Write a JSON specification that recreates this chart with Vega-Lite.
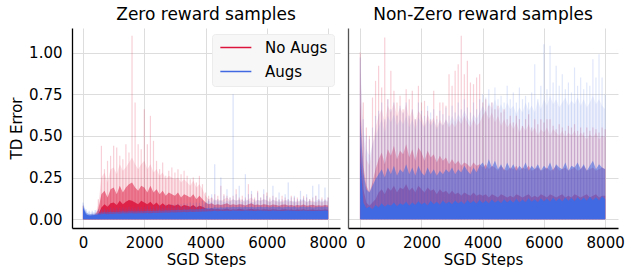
{
"$schema":"https://vega.github.io/schema/vega-lite/v6.json",
"background":"white",
"padding":{"left":9,"top":6,"right":0,"bottom":0},
"bounds":"flush",
"spacing":8,
"resolve":{"legend":{"stroke":"independent"},"scale":{"stroke":"independent"}},
"data":{"values":[
{"panel":"Zero","group":"No Augs","step":0,"q50":0.03,"q90":0.05,"q99":0.065,"max":0.08},
{"panel":"Zero","group":"No Augs","step":100,"q50":0.012,"q90":0.02,"q99":0.025,"max":0.03},
{"panel":"Zero","group":"No Augs","step":200,"q50":0.01,"q90":0.018,"q99":0.022,"max":0.025},
{"panel":"Zero","group":"No Augs","step":300,"q50":0.012,"q90":0.02,"q99":0.025,"max":0.03},
{"panel":"Zero","group":"No Augs","step":400,"q50":0.015,"q90":0.025,"q99":0.03,"max":0.035},
{"panel":"Zero","group":"No Augs","step":500,"q50":0.03,"q90":0.06,"q99":0.09,"max":0.12},
{"panel":"Zero","group":"No Augs","step":600,"q50":0.07,"q90":0.15,"q99":0.25,"max":0.44},
{"panel":"Zero","group":"No Augs","step":700,"q50":0.09,"q90":0.17,"q99":0.28,"max":0.3},
{"panel":"Zero","group":"No Augs","step":800,"q50":0.075,"q90":0.13,"q99":0.22,"max":0.35},
{"panel":"Zero","group":"No Augs","step":900,"q50":0.095,"q90":0.18,"q99":0.3,"max":0.38},
{"panel":"Zero","group":"No Augs","step":1000,"q50":0.1,"q90":0.19,"q99":0.31,"max":0.44},
{"panel":"Zero","group":"No Augs","step":1100,"q50":0.085,"q90":0.15,"q99":0.27,"max":0.43},
{"panel":"Zero","group":"No Augs","step":1200,"q50":0.11,"q90":0.2,"q99":0.33,"max":0.38},
{"panel":"Zero","group":"No Augs","step":1300,"q50":0.09,"q90":0.16,"q99":0.29,"max":0.36},
{"panel":"Zero","group":"No Augs","step":1400,"q50":0.105,"q90":0.19,"q99":0.31,"max":0.45},
{"panel":"Zero","group":"No Augs","step":1500,"q50":0.115,"q90":0.21,"q99":0.34,"max":0.4},
{"panel":"Zero","group":"No Augs","step":1600,"q50":0.11,"q90":0.22,"q99":0.37,"max":1.1},
{"panel":"Zero","group":"No Augs","step":1700,"q50":0.1,"q90":0.19,"q99":0.33,"max":0.7},
{"panel":"Zero","group":"No Augs","step":1800,"q50":0.09,"q90":0.17,"q99":0.3,"max":0.45},
{"panel":"Zero","group":"No Augs","step":1900,"q50":0.11,"q90":0.2,"q99":0.33,"max":0.42},
{"panel":"Zero","group":"No Augs","step":2000,"q50":0.1,"q90":0.19,"q99":0.35,"max":0.66},
{"panel":"Zero","group":"No Augs","step":2100,"q50":0.09,"q90":0.16,"q99":0.3,"max":0.45},
{"panel":"Zero","group":"No Augs","step":2200,"q50":0.105,"q90":0.2,"q99":0.33,"max":0.62},
{"panel":"Zero","group":"No Augs","step":2300,"q50":0.085,"q90":0.16,"q99":0.28,"max":0.47},
{"panel":"Zero","group":"No Augs","step":2400,"q50":0.1,"q90":0.18,"q99":0.3,"max":0.35},
{"panel":"Zero","group":"No Augs","step":2500,"q50":0.08,"q90":0.15,"q99":0.26,"max":0.3},
{"panel":"Zero","group":"No Augs","step":2600,"q50":0.095,"q90":0.17,"q99":0.28,"max":0.34},
{"panel":"Zero","group":"No Augs","step":2700,"q50":0.08,"q90":0.14,"q99":0.24,"max":0.26},
{"panel":"Zero","group":"No Augs","step":2800,"q50":0.09,"q90":0.16,"q99":0.26,"max":0.29},
{"panel":"Zero","group":"No Augs","step":2900,"q50":0.085,"q90":0.15,"q99":0.25,"max":0.31},
{"panel":"Zero","group":"No Augs","step":3000,"q50":0.08,"q90":0.14,"q99":0.24,"max":0.28},
{"panel":"Zero","group":"No Augs","step":3100,"q50":0.09,"q90":0.16,"q99":0.25,"max":0.3},
{"panel":"Zero","group":"No Augs","step":3200,"q50":0.075,"q90":0.13,"q99":0.22,"max":0.27},
{"panel":"Zero","group":"No Augs","step":3300,"q50":0.085,"q90":0.15,"q99":0.24,"max":0.29},
{"panel":"Zero","group":"No Augs","step":3400,"q50":0.08,"q90":0.14,"q99":0.22,"max":0.26},
{"panel":"Zero","group":"No Augs","step":3500,"q50":0.075,"q90":0.13,"q99":0.2,"max":0.24},
{"panel":"Zero","group":"No Augs","step":3600,"q50":0.085,"q90":0.15,"q99":0.23,"max":0.25},
{"panel":"Zero","group":"No Augs","step":3700,"q50":0.07,"q90":0.12,"q99":0.19,"max":0.22},
{"panel":"Zero","group":"No Augs","step":3800,"q50":0.08,"q90":0.14,"q99":0.21,"max":0.26},
{"panel":"Zero","group":"No Augs","step":3900,"q50":0.075,"q90":0.12,"q99":0.18,"max":0.21},
{"panel":"Zero","group":"No Augs","step":4000,"q50":0.065,"q90":0.1,"q99":0.14,"max":0.16},
{"panel":"Zero","group":"No Augs","step":4100,"q50":0.06,"q90":0.09,"q99":0.12,"max":0.14},
{"panel":"Zero","group":"No Augs","step":4200,"q50":0.065,"q90":0.095,"q99":0.13,"max":0.13},
{"panel":"Zero","group":"No Augs","step":4300,"q50":0.06,"q90":0.085,"q99":0.11,"max":0.15},
{"panel":"Zero","group":"No Augs","step":4400,"q50":0.062,"q90":0.09,"q99":0.12,"max":0.14},
{"panel":"Zero","group":"No Augs","step":4500,"q50":0.058,"q90":0.085,"q99":0.11,"max":0.2},
{"panel":"Zero","group":"No Augs","step":4600,"q50":0.06,"q90":0.09,"q99":0.12,"max":0.15},
{"panel":"Zero","group":"No Augs","step":4700,"q50":0.064,"q90":0.095,"q99":0.13,"max":0.14},
{"panel":"Zero","group":"No Augs","step":4800,"q50":0.057,"q90":0.085,"q99":0.11,"max":0.13},
{"panel":"Zero","group":"No Augs","step":4900,"q50":0.06,"q90":0.09,"q99":0.12,"max":0.14},
{"panel":"Zero","group":"No Augs","step":5000,"q50":0.058,"q90":0.085,"q99":0.11,"max":0.18},
{"panel":"Zero","group":"No Augs","step":5100,"q50":0.062,"q90":0.09,"q99":0.12,"max":0.13},
{"panel":"Zero","group":"No Augs","step":5200,"q50":0.06,"q90":0.088,"q99":0.115,"max":0.14},
{"panel":"Zero","group":"No Augs","step":5300,"q50":0.056,"q90":0.082,"q99":0.105,"max":0.13},
{"panel":"Zero","group":"No Augs","step":5400,"q50":0.06,"q90":0.09,"q99":0.12,"max":0.21},
{"panel":"Zero","group":"No Augs","step":5500,"q50":0.063,"q90":0.095,"q99":0.13,"max":0.15},
{"panel":"Zero","group":"No Augs","step":5600,"q50":0.058,"q90":0.085,"q99":0.11,"max":0.13},
{"panel":"Zero","group":"No Augs","step":5700,"q50":0.06,"q90":0.088,"q99":0.115,"max":0.17},
{"panel":"Zero","group":"No Augs","step":5800,"q50":0.057,"q90":0.084,"q99":0.11,"max":0.13},
{"panel":"Zero","group":"No Augs","step":5900,"q50":0.06,"q90":0.09,"q99":0.12,"max":0.15},
{"panel":"Zero","group":"No Augs","step":6000,"q50":0.058,"q90":0.086,"q99":0.115,"max":0.16},
{"panel":"Zero","group":"No Augs","step":6100,"q50":0.056,"q90":0.082,"q99":0.105,"max":0.13},
{"panel":"Zero","group":"No Augs","step":6200,"q50":0.06,"q90":0.088,"q99":0.115,"max":0.14},
{"panel":"Zero","group":"No Augs","step":6300,"q50":0.058,"q90":0.085,"q99":0.11,"max":0.13},
{"panel":"Zero","group":"No Augs","step":6400,"q50":0.055,"q90":0.08,"q99":0.1,"max":0.12},
{"panel":"Zero","group":"No Augs","step":6500,"q50":0.058,"q90":0.086,"q99":0.11,"max":0.14},
{"panel":"Zero","group":"No Augs","step":6600,"q50":0.06,"q90":0.088,"q99":0.115,"max":0.13},
{"panel":"Zero","group":"No Augs","step":6700,"q50":0.056,"q90":0.082,"q99":0.105,"max":0.12},
{"panel":"Zero","group":"No Augs","step":6800,"q50":0.058,"q90":0.085,"q99":0.11,"max":0.14},
{"panel":"Zero","group":"No Augs","step":6900,"q50":0.055,"q90":0.08,"q99":0.1,"max":0.13},
{"panel":"Zero","group":"No Augs","step":7000,"q50":0.058,"q90":0.085,"q99":0.11,"max":0.13},
{"panel":"Zero","group":"No Augs","step":7100,"q50":0.056,"q90":0.082,"q99":0.105,"max":0.12},
{"panel":"Zero","group":"No Augs","step":7200,"q50":0.06,"q90":0.088,"q99":0.115,"max":0.14},
{"panel":"Zero","group":"No Augs","step":7300,"q50":0.055,"q90":0.08,"q99":0.1,"max":0.13},
{"panel":"Zero","group":"No Augs","step":7400,"q50":0.057,"q90":0.084,"q99":0.11,"max":0.12},
{"panel":"Zero","group":"No Augs","step":7500,"q50":0.058,"q90":0.086,"q99":0.11,"max":0.13},
{"panel":"Zero","group":"No Augs","step":7600,"q50":0.055,"q90":0.08,"q99":0.1,"max":0.14},
{"panel":"Zero","group":"No Augs","step":7700,"q50":0.057,"q90":0.084,"q99":0.11,"max":0.12},
{"panel":"Zero","group":"No Augs","step":7800,"q50":0.055,"q90":0.08,"q99":0.1,"max":0.13},
{"panel":"Zero","group":"No Augs","step":7900,"q50":0.058,"q90":0.085,"q99":0.11,"max":0.12},
{"panel":"Zero","group":"No Augs","step":8000,"q50":0.056,"q90":0.082,"q99":0.105,"max":0.13},
{"panel":"Zero","group":"Augs","step":0,"q50":0.07,"q90":0.085,"q99":0.1,"max":0.1},
{"panel":"Zero","group":"Augs","step":100,"q50":0.03,"q90":0.04,"q99":0.05,"max":0.06},
{"panel":"Zero","group":"Augs","step":200,"q50":0.022,"q90":0.03,"q99":0.04,"max":0.05},
{"panel":"Zero","group":"Augs","step":300,"q50":0.024,"q90":0.032,"q99":0.042,"max":0.05},
{"panel":"Zero","group":"Augs","step":400,"q50":0.025,"q90":0.033,"q99":0.044,"max":0.055},
{"panel":"Zero","group":"Augs","step":500,"q50":0.028,"q90":0.036,"q99":0.048,"max":0.06},
{"panel":"Zero","group":"Augs","step":600,"q50":0.03,"q90":0.04,"q99":0.05,"max":0.06},
{"panel":"Zero","group":"Augs","step":700,"q50":0.032,"q90":0.042,"q99":0.053,"max":0.065},
{"panel":"Zero","group":"Augs","step":800,"q50":0.03,"q90":0.04,"q99":0.05,"max":0.06},
{"panel":"Zero","group":"Augs","step":900,"q50":0.033,"q90":0.044,"q99":0.055,"max":0.07},
{"panel":"Zero","group":"Augs","step":1000,"q50":0.032,"q90":0.043,"q99":0.054,"max":0.065},
{"panel":"Zero","group":"Augs","step":1100,"q50":0.034,"q90":0.045,"q99":0.056,"max":0.07},
{"panel":"Zero","group":"Augs","step":1200,"q50":0.033,"q90":0.044,"q99":0.055,"max":0.068},
{"panel":"Zero","group":"Augs","step":1300,"q50":0.035,"q90":0.047,"q99":0.058,"max":0.072},
{"panel":"Zero","group":"Augs","step":1400,"q50":0.034,"q90":0.045,"q99":0.056,"max":0.07},
{"panel":"Zero","group":"Augs","step":1500,"q50":0.036,"q90":0.048,"q99":0.06,"max":0.075},
{"panel":"Zero","group":"Augs","step":1600,"q50":0.035,"q90":0.047,"q99":0.058,"max":0.072},
{"panel":"Zero","group":"Augs","step":1700,"q50":0.034,"q90":0.046,"q99":0.057,"max":0.07},
{"panel":"Zero","group":"Augs","step":1800,"q50":0.036,"q90":0.048,"q99":0.06,"max":0.075},
{"panel":"Zero","group":"Augs","step":1900,"q50":0.035,"q90":0.047,"q99":0.058,"max":0.073},
{"panel":"Zero","group":"Augs","step":2000,"q50":0.036,"q90":0.048,"q99":0.06,"max":0.075},
{"panel":"Zero","group":"Augs","step":2100,"q50":0.037,"q90":0.05,"q99":0.062,"max":0.08},
{"panel":"Zero","group":"Augs","step":2200,"q50":0.036,"q90":0.049,"q99":0.06,"max":0.078},
{"panel":"Zero","group":"Augs","step":2300,"q50":0.038,"q90":0.051,"q99":0.064,"max":0.082},
{"panel":"Zero","group":"Augs","step":2400,"q50":0.037,"q90":0.05,"q99":0.062,"max":0.08},
{"panel":"Zero","group":"Augs","step":2500,"q50":0.039,"q90":0.052,"q99":0.066,"max":0.085},
{"panel":"Zero","group":"Augs","step":2600,"q50":0.038,"q90":0.051,"q99":0.064,"max":0.082},
{"panel":"Zero","group":"Augs","step":2700,"q50":0.04,"q90":0.054,"q99":0.068,"max":0.088},
{"panel":"Zero","group":"Augs","step":2800,"q50":0.039,"q90":0.052,"q99":0.066,"max":0.085},
{"panel":"Zero","group":"Augs","step":2900,"q50":0.041,"q90":0.055,"q99":0.07,"max":0.09},
{"panel":"Zero","group":"Augs","step":3000,"q50":0.04,"q90":0.054,"q99":0.068,"max":0.088},
{"panel":"Zero","group":"Augs","step":3100,"q50":0.042,"q90":0.056,"q99":0.072,"max":0.092},
{"panel":"Zero","group":"Augs","step":3200,"q50":0.041,"q90":0.055,"q99":0.07,"max":0.09},
{"panel":"Zero","group":"Augs","step":3300,"q50":0.043,"q90":0.058,"q99":0.075,"max":0.095},
{"panel":"Zero","group":"Augs","step":3400,"q50":0.042,"q90":0.056,"q99":0.072,"max":0.092},
{"panel":"Zero","group":"Augs","step":3500,"q50":0.044,"q90":0.059,"q99":0.076,"max":0.1},
{"panel":"Zero","group":"Augs","step":3600,"q50":0.043,"q90":0.058,"q99":0.074,"max":0.095},
{"panel":"Zero","group":"Augs","step":3700,"q50":0.045,"q90":0.06,"q99":0.078,"max":0.1},
{"panel":"Zero","group":"Augs","step":3800,"q50":0.044,"q90":0.059,"q99":0.076,"max":0.098},
{"panel":"Zero","group":"Augs","step":3900,"q50":0.046,"q90":0.062,"q99":0.08,"max":0.11},
{"panel":"Zero","group":"Augs","step":4000,"q50":0.046,"q90":0.065,"q99":0.1,"max":0.1},
{"panel":"Zero","group":"Augs","step":4100,"q50":0.048,"q90":0.068,"q99":0.11,"max":0.12},
{"panel":"Zero","group":"Augs","step":4200,"q50":0.047,"q90":0.066,"q99":0.1,"max":0.15},
{"panel":"Zero","group":"Augs","step":4300,"q50":0.05,"q90":0.072,"q99":0.12,"max":0.33},
{"panel":"Zero","group":"Augs","step":4400,"q50":0.048,"q90":0.068,"q99":0.105,"max":0.12},
{"panel":"Zero","group":"Augs","step":4500,"q50":0.05,"q90":0.071,"q99":0.115,"max":0.25},
{"panel":"Zero","group":"Augs","step":4600,"q50":0.049,"q90":0.069,"q99":0.1,"max":0.14},
{"panel":"Zero","group":"Augs","step":4700,"q50":0.051,"q90":0.073,"q99":0.11,"max":0.18},
{"panel":"Zero","group":"Augs","step":4800,"q50":0.049,"q90":0.07,"q99":0.105,"max":0.13},
{"panel":"Zero","group":"Augs","step":4900,"q50":0.052,"q90":0.075,"q99":0.12,"max":0.75},
{"panel":"Zero","group":"Augs","step":5000,"q50":0.05,"q90":0.072,"q99":0.11,"max":0.15},
{"panel":"Zero","group":"Augs","step":5100,"q50":0.051,"q90":0.074,"q99":0.115,"max":0.2},
{"panel":"Zero","group":"Augs","step":5200,"q50":0.049,"q90":0.07,"q99":0.1,"max":0.12},
{"panel":"Zero","group":"Augs","step":5300,"q50":0.052,"q90":0.075,"q99":0.12,"max":0.27},
{"panel":"Zero","group":"Augs","step":5400,"q50":0.05,"q90":0.072,"q99":0.11,"max":0.15},
{"panel":"Zero","group":"Augs","step":5500,"q50":0.051,"q90":0.074,"q99":0.105,"max":0.17},
{"panel":"Zero","group":"Augs","step":5600,"q50":0.049,"q90":0.07,"q99":0.1,"max":0.12},
{"panel":"Zero","group":"Augs","step":5700,"q50":0.05,"q90":0.073,"q99":0.115,"max":0.16},
{"panel":"Zero","group":"Augs","step":5800,"q50":0.052,"q90":0.075,"q99":0.11,"max":0.13},
{"panel":"Zero","group":"Augs","step":5900,"q50":0.05,"q90":0.071,"q99":0.12,"max":0.18},
{"panel":"Zero","group":"Augs","step":6000,"q50":0.051,"q90":0.074,"q99":0.11,"max":0.14},
{"panel":"Zero","group":"Augs","step":6100,"q50":0.049,"q90":0.07,"q99":0.1,"max":0.12},
{"panel":"Zero","group":"Augs","step":6200,"q50":0.052,"q90":0.076,"q99":0.12,"max":0.2},
{"panel":"Zero","group":"Augs","step":6300,"q50":0.05,"q90":0.072,"q99":0.105,"max":0.13},
{"panel":"Zero","group":"Augs","step":6400,"q50":0.051,"q90":0.074,"q99":0.115,"max":0.16},
{"panel":"Zero","group":"Augs","step":6500,"q50":0.049,"q90":0.07,"q99":0.1,"max":0.12},
{"panel":"Zero","group":"Augs","step":6600,"q50":0.05,"q90":0.073,"q99":0.11,"max":0.15},
{"panel":"Zero","group":"Augs","step":6700,"q50":0.052,"q90":0.075,"q99":0.12,"max":0.22},
{"panel":"Zero","group":"Augs","step":6800,"q50":0.05,"q90":0.071,"q99":0.105,"max":0.13},
{"panel":"Zero","group":"Augs","step":6900,"q50":0.051,"q90":0.074,"q99":0.11,"max":0.14},
{"panel":"Zero","group":"Augs","step":7000,"q50":0.049,"q90":0.07,"q99":0.1,"max":0.12},
{"panel":"Zero","group":"Augs","step":7100,"q50":0.05,"q90":0.073,"q99":0.115,"max":0.17},
{"panel":"Zero","group":"Augs","step":7200,"q50":0.052,"q90":0.076,"q99":0.12,"max":0.13},
{"panel":"Zero","group":"Augs","step":7300,"q50":0.05,"q90":0.072,"q99":0.105,"max":0.15},
{"panel":"Zero","group":"Augs","step":7400,"q50":0.051,"q90":0.074,"q99":0.11,"max":0.12},
{"panel":"Zero","group":"Augs","step":7500,"q50":0.049,"q90":0.07,"q99":0.1,"max":0.2},
{"panel":"Zero","group":"Augs","step":7600,"q50":0.05,"q90":0.072,"q99":0.11,"max":0.14},
{"panel":"Zero","group":"Augs","step":7700,"q50":0.051,"q90":0.075,"q99":0.12,"max":0.21},
{"panel":"Zero","group":"Augs","step":7800,"q50":0.05,"q90":0.071,"q99":0.105,"max":0.12},
{"panel":"Zero","group":"Augs","step":7900,"q50":0.052,"q90":0.076,"q99":0.115,"max":0.19},
{"panel":"Zero","group":"Augs","step":8000,"q50":0.05,"q90":0.072,"q99":0.11,"max":0.13},
{"panel":"Non-Zero","group":"No Augs","step":0,"q50":0.45,"q90":0.7,"q99":0.9,"max":1.0},
{"panel":"Non-Zero","group":"No Augs","step":100,"q50":0.18,"q90":0.32,"q99":0.5,"max":0.7},
{"panel":"Non-Zero","group":"No Augs","step":200,"q50":0.1,"q90":0.2,"q99":0.36,"max":0.55},
{"panel":"Non-Zero","group":"No Augs","step":300,"q50":0.08,"q90":0.16,"q99":0.32,"max":0.5},
{"panel":"Non-Zero","group":"No Augs","step":400,"q50":0.1,"q90":0.22,"q99":0.45,"max":0.73},
{"panel":"Non-Zero","group":"No Augs","step":500,"q50":0.12,"q90":0.3,"q99":0.55,"max":0.83},
{"panel":"Non-Zero","group":"No Augs","step":600,"q50":0.16,"q90":0.36,"q99":0.62,"max":0.92},
{"panel":"Non-Zero","group":"No Augs","step":700,"q50":0.18,"q90":0.4,"q99":0.66,"max":0.79},
{"panel":"Non-Zero","group":"No Augs","step":800,"q50":0.15,"q90":0.33,"q99":0.58,"max":1.09},
{"panel":"Non-Zero","group":"No Augs","step":900,"q50":0.19,"q90":0.42,"q99":0.68,"max":0.72},
{"panel":"Non-Zero","group":"No Augs","step":1000,"q50":0.17,"q90":0.38,"q99":0.64,"max":0.89},
{"panel":"Non-Zero","group":"No Augs","step":1100,"q50":0.2,"q90":0.44,"q99":0.7,"max":0.77},
{"panel":"Non-Zero","group":"No Augs","step":1200,"q50":0.16,"q90":0.36,"q99":0.62,"max":0.7},
{"panel":"Non-Zero","group":"No Augs","step":1300,"q50":0.19,"q90":0.41,"q99":0.67,"max":0.74},
{"panel":"Non-Zero","group":"No Augs","step":1400,"q50":0.18,"q90":0.39,"q99":0.63,"max":0.66},
{"panel":"Non-Zero","group":"No Augs","step":1500,"q50":0.21,"q90":0.45,"q99":0.69,"max":0.78},
{"panel":"Non-Zero","group":"No Augs","step":1600,"q50":0.17,"q90":0.37,"q99":0.6,"max":0.72},
{"panel":"Non-Zero","group":"No Augs","step":1700,"q50":0.19,"q90":0.42,"q99":0.66,"max":0.77},
{"panel":"Non-Zero","group":"No Augs","step":1800,"q50":0.16,"q90":0.35,"q99":0.58,"max":0.6},
{"panel":"Non-Zero","group":"No Augs","step":1900,"q50":0.2,"q90":0.43,"q99":0.65,"max":0.8},
{"panel":"Non-Zero","group":"No Augs","step":2000,"q50":0.18,"q90":0.4,"q99":0.62,"max":0.7},
{"panel":"Non-Zero","group":"No Augs","step":2100,"q50":0.16,"q90":0.35,"q99":0.56,"max":0.71},
{"panel":"Non-Zero","group":"No Augs","step":2200,"q50":0.19,"q90":0.41,"q99":0.63,"max":0.65},
{"panel":"Non-Zero","group":"No Augs","step":2300,"q50":0.17,"q90":0.37,"q99":0.58,"max":0.6},
{"panel":"Non-Zero","group":"No Augs","step":2400,"q50":0.18,"q90":0.39,"q99":0.61,"max":0.77},
{"panel":"Non-Zero","group":"No Augs","step":2500,"q50":0.15,"q90":0.34,"q99":0.55,"max":0.62},
{"panel":"Non-Zero","group":"No Augs","step":2600,"q50":0.18,"q90":0.38,"q99":0.6,"max":0.7},
{"panel":"Non-Zero","group":"No Augs","step":2700,"q50":0.16,"q90":0.35,"q99":0.56,"max":0.7},
{"panel":"Non-Zero","group":"No Augs","step":2800,"q50":0.17,"q90":0.37,"q99":0.6,"max":0.68},
{"panel":"Non-Zero","group":"No Augs","step":2900,"q50":0.15,"q90":0.33,"q99":0.55,"max":0.87},
{"panel":"Non-Zero","group":"No Augs","step":3000,"q50":0.17,"q90":0.36,"q99":0.58,"max":0.8},
{"panel":"Non-Zero","group":"No Augs","step":3100,"q50":0.15,"q90":0.33,"q99":0.55,"max":0.89},
{"panel":"Non-Zero","group":"No Augs","step":3200,"q50":0.16,"q90":0.35,"q99":0.6,"max":0.93},
{"panel":"Non-Zero","group":"No Augs","step":3300,"q50":0.14,"q90":0.32,"q99":0.57,"max":1.1},
{"panel":"Non-Zero","group":"No Augs","step":3400,"q50":0.16,"q90":0.34,"q99":0.62,"max":0.87},
{"panel":"Non-Zero","group":"No Augs","step":3500,"q50":0.15,"q90":0.33,"q99":0.58,"max":0.95},
{"panel":"Non-Zero","group":"No Augs","step":3600,"q50":0.14,"q90":0.31,"q99":0.55,"max":0.82},
{"panel":"Non-Zero","group":"No Augs","step":3700,"q50":0.16,"q90":0.34,"q99":0.6,"max":0.81},
{"panel":"Non-Zero","group":"No Augs","step":3800,"q50":0.14,"q90":0.32,"q99":0.56,"max":0.85},
{"panel":"Non-Zero","group":"No Augs","step":3900,"q50":0.15,"q90":0.33,"q99":0.58,"max":0.87},
{"panel":"Non-Zero","group":"No Augs","step":4000,"q50":0.14,"q90":0.31,"q99":0.62,"max":0.7},
{"panel":"Non-Zero","group":"No Augs","step":4100,"q50":0.15,"q90":0.33,"q99":0.65,"max":0.72},
{"panel":"Non-Zero","group":"No Augs","step":4200,"q50":0.13,"q90":0.3,"q99":0.6,"max":0.68},
{"panel":"Non-Zero","group":"No Augs","step":4300,"q50":0.15,"q90":0.32,"q99":0.64,"max":0.7},
{"panel":"Non-Zero","group":"No Augs","step":4400,"q50":0.14,"q90":0.31,"q99":0.58,"max":0.66},
{"panel":"Non-Zero","group":"No Augs","step":4500,"q50":0.13,"q90":0.29,"q99":0.62,"max":0.68},
{"panel":"Non-Zero","group":"No Augs","step":4600,"q50":0.15,"q90":0.32,"q99":0.56,"max":0.64},
{"panel":"Non-Zero","group":"No Augs","step":4700,"q50":0.14,"q90":0.3,"q99":0.6,"max":0.66},
{"panel":"Non-Zero","group":"No Augs","step":4800,"q50":0.13,"q90":0.29,"q99":0.55,"max":0.6},
{"panel":"Non-Zero","group":"No Augs","step":4900,"q50":0.14,"q90":0.31,"q99":0.58,"max":0.62},
{"panel":"Non-Zero","group":"No Augs","step":5000,"q50":0.13,"q90":0.3,"q99":0.54,"max":0.58},
{"panel":"Non-Zero","group":"No Augs","step":5100,"q50":0.15,"q90":0.32,"q99":0.58,"max":0.62},
{"panel":"Non-Zero","group":"No Augs","step":5200,"q50":0.14,"q90":0.29,"q99":0.52,"max":0.6},
{"panel":"Non-Zero","group":"No Augs","step":5300,"q50":0.13,"q90":0.31,"q99":0.56,"max":0.56},
{"panel":"Non-Zero","group":"No Augs","step":5400,"q50":0.14,"q90":0.3,"q99":0.53,"max":0.6},
{"panel":"Non-Zero","group":"No Augs","step":5500,"q50":0.15,"q90":0.32,"q99":0.57,"max":0.63},
{"panel":"Non-Zero","group":"No Augs","step":5600,"q50":0.13,"q90":0.29,"q99":0.52,"max":0.55},
{"panel":"Non-Zero","group":"No Augs","step":5700,"q50":0.14,"q90":0.3,"q99":0.55,"max":0.6},
{"panel":"Non-Zero","group":"No Augs","step":5800,"q50":0.13,"q90":0.31,"q99":0.5,"max":0.57},
{"panel":"Non-Zero","group":"No Augs","step":5900,"q50":0.15,"q90":0.29,"q99":0.54,"max":0.6},
{"panel":"Non-Zero","group":"No Augs","step":6000,"q50":0.14,"q90":0.3,"q99":0.52,"max":0.58},
{"panel":"Non-Zero","group":"No Augs","step":6100,"q50":0.13,"q90":0.31,"q99":0.55,"max":0.6},
{"panel":"Non-Zero","group":"No Augs","step":6200,"q50":0.15,"q90":0.29,"q99":0.5,"max":0.6},
{"panel":"Non-Zero","group":"No Augs","step":6300,"q50":0.14,"q90":0.3,"q99":0.54,"max":0.56},
{"panel":"Non-Zero","group":"No Augs","step":6400,"q50":0.13,"q90":0.32,"q99":0.52,"max":0.54},
{"panel":"Non-Zero","group":"No Augs","step":6500,"q50":0.14,"q90":0.29,"q99":0.5,"max":0.57},
{"panel":"Non-Zero","group":"No Augs","step":6600,"q50":0.15,"q90":0.3,"q99":0.53,"max":0.55},
{"panel":"Non-Zero","group":"No Augs","step":6700,"q50":0.13,"q90":0.31,"q99":0.49,"max":0.53},
{"panel":"Non-Zero","group":"No Augs","step":6800,"q50":0.14,"q90":0.29,"q99":0.52,"max":0.56},
{"panel":"Non-Zero","group":"No Augs","step":6900,"q50":0.13,"q90":0.3,"q99":0.5,"max":0.55},
{"panel":"Non-Zero","group":"No Augs","step":7000,"q50":0.15,"q90":0.31,"q99":0.53,"max":0.57},
{"panel":"Non-Zero","group":"No Augs","step":7100,"q50":0.14,"q90":0.29,"q99":0.49,"max":0.53},
{"panel":"Non-Zero","group":"No Augs","step":7200,"q50":0.13,"q90":0.3,"q99":0.52,"max":0.55},
{"panel":"Non-Zero","group":"No Augs","step":7300,"q50":0.14,"q90":0.32,"q99":0.5,"max":0.52},
{"panel":"Non-Zero","group":"No Augs","step":7400,"q50":0.15,"q90":0.29,"q99":0.48,"max":0.55},
{"panel":"Non-Zero","group":"No Augs","step":7500,"q50":0.13,"q90":0.3,"q99":0.51,"max":0.53},
{"panel":"Non-Zero","group":"No Augs","step":7600,"q50":0.14,"q90":0.31,"q99":0.49,"max":0.55},
{"panel":"Non-Zero","group":"No Augs","step":7700,"q50":0.15,"q90":0.29,"q99":0.52,"max":0.54},
{"panel":"Non-Zero","group":"No Augs","step":7800,"q50":0.13,"q90":0.3,"q99":0.48,"max":0.52},
{"panel":"Non-Zero","group":"No Augs","step":7900,"q50":0.14,"q90":0.31,"q99":0.5,"max":0.55},
{"panel":"Non-Zero","group":"No Augs","step":8000,"q50":0.14,"q90":0.3,"q99":0.49,"max":0.54},
{"panel":"Non-Zero","group":"Augs","step":0,"q50":0.35,"q90":0.6,"q99":0.97,"max":0.97},
{"panel":"Non-Zero","group":"Augs","step":100,"q50":0.1,"q90":0.28,"q99":0.55,"max":0.6},
{"panel":"Non-Zero","group":"Augs","step":200,"q50":0.065,"q90":0.18,"q99":0.42,"max":0.5},
{"panel":"Non-Zero","group":"Augs","step":300,"q50":0.075,"q90":0.16,"q99":0.38,"max":0.48},
{"panel":"Non-Zero","group":"Augs","step":400,"q50":0.06,"q90":0.2,"q99":0.45,"max":0.55},
{"panel":"Non-Zero","group":"Augs","step":500,"q50":0.085,"q90":0.24,"q99":0.5,"max":0.62},
{"panel":"Non-Zero","group":"Augs","step":600,"q50":0.07,"q90":0.27,"q99":0.55,"max":0.65},
{"panel":"Non-Zero","group":"Augs","step":700,"q50":0.095,"q90":0.3,"q99":0.6,"max":0.7},
{"panel":"Non-Zero","group":"Augs","step":800,"q50":0.075,"q90":0.25,"q99":0.52,"max":0.6},
{"panel":"Non-Zero","group":"Augs","step":900,"q50":0.09,"q90":0.31,"q99":0.62,"max":0.72},
{"panel":"Non-Zero","group":"Augs","step":1000,"q50":0.08,"q90":0.27,"q99":0.58,"max":0.66},
{"panel":"Non-Zero","group":"Augs","step":1100,"q50":0.1,"q90":0.32,"q99":0.63,"max":0.7},
{"panel":"Non-Zero","group":"Augs","step":1200,"q50":0.078,"q90":0.26,"q99":0.56,"max":0.62},
{"panel":"Non-Zero","group":"Augs","step":1300,"q50":0.095,"q90":0.3,"q99":0.6,"max":0.68},
{"panel":"Non-Zero","group":"Augs","step":1400,"q50":0.085,"q90":0.28,"q99":0.57,"max":0.64},
{"panel":"Non-Zero","group":"Augs","step":1500,"q50":0.105,"q90":0.33,"q99":0.62,"max":0.7},
{"panel":"Non-Zero","group":"Augs","step":1600,"q50":0.08,"q90":0.27,"q99":0.55,"max":0.62},
{"panel":"Non-Zero","group":"Augs","step":1700,"q50":0.1,"q90":0.31,"q99":0.6,"max":0.66},
{"panel":"Non-Zero","group":"Augs","step":1800,"q50":0.085,"q90":0.26,"q99":0.54,"max":0.6},
{"panel":"Non-Zero","group":"Augs","step":1900,"q50":0.108,"q90":0.32,"q99":0.61,"max":0.7},
{"panel":"Non-Zero","group":"Augs","step":2000,"q50":0.088,"q90":0.28,"q99":0.58,"max":0.65},
{"panel":"Non-Zero","group":"Augs","step":2100,"q50":0.1,"q90":0.26,"q99":0.55,"max":0.62},
{"panel":"Non-Zero","group":"Augs","step":2200,"q50":0.082,"q90":0.31,"q99":0.6,"max":0.68},
{"panel":"Non-Zero","group":"Augs","step":2300,"q50":0.11,"q90":0.27,"q99":0.56,"max":0.64},
{"panel":"Non-Zero","group":"Augs","step":2400,"q50":0.09,"q90":0.3,"q99":0.59,"max":0.66},
{"panel":"Non-Zero","group":"Augs","step":2500,"q50":0.105,"q90":0.26,"q99":0.54,"max":0.6},
{"panel":"Non-Zero","group":"Augs","step":2600,"q50":0.086,"q90":0.29,"q99":0.58,"max":0.65},
{"panel":"Non-Zero","group":"Augs","step":2700,"q50":0.112,"q90":0.27,"q99":0.56,"max":0.63},
{"panel":"Non-Zero","group":"Augs","step":2800,"q50":0.092,"q90":0.3,"q99":0.6,"max":0.67},
{"panel":"Non-Zero","group":"Augs","step":2900,"q50":0.104,"q90":0.28,"q99":0.57,"max":0.62},
{"panel":"Non-Zero","group":"Augs","step":3000,"q50":0.09,"q90":0.31,"q99":0.62,"max":0.68},
{"panel":"Non-Zero","group":"Augs","step":3100,"q50":0.112,"q90":0.27,"q99":0.58,"max":0.64},
{"panel":"Non-Zero","group":"Augs","step":3200,"q50":0.094,"q90":0.3,"q99":0.63,"max":0.7},
{"panel":"Non-Zero","group":"Augs","step":3300,"q50":0.108,"q90":0.28,"q99":0.6,"max":0.66},
{"panel":"Non-Zero","group":"Augs","step":3400,"q50":0.09,"q90":0.32,"q99":0.65,"max":0.72},
{"panel":"Non-Zero","group":"Augs","step":3500,"q50":0.115,"q90":0.29,"q99":0.61,"max":0.67},
{"panel":"Non-Zero","group":"Augs","step":3600,"q50":0.095,"q90":0.27,"q99":0.58,"max":0.64},
{"panel":"Non-Zero","group":"Augs","step":3700,"q50":0.11,"q90":0.31,"q99":0.63,"max":0.7},
{"panel":"Non-Zero","group":"Augs","step":3800,"q50":0.092,"q90":0.28,"q99":0.6,"max":0.66},
{"panel":"Non-Zero","group":"Augs","step":3900,"q50":0.116,"q90":0.32,"q99":0.64,"max":0.72},
{"panel":"Non-Zero","group":"Augs","step":4000,"q50":0.096,"q90":0.34,"q99":0.68,"max":0.75},
{"panel":"Non-Zero","group":"Augs","step":4100,"q50":0.112,"q90":0.3,"q99":0.64,"max":0.73},
{"panel":"Non-Zero","group":"Augs","step":4200,"q50":0.094,"q90":0.36,"q99":0.7,"max":0.78},
{"panel":"Non-Zero","group":"Augs","step":4300,"q50":0.118,"q90":0.31,"q99":0.66,"max":0.7},
{"panel":"Non-Zero","group":"Augs","step":4400,"q50":0.098,"q90":0.35,"q99":0.72,"max":0.79},
{"panel":"Non-Zero","group":"Augs","step":4500,"q50":0.114,"q90":0.3,"q99":0.65,"max":0.72},
{"panel":"Non-Zero","group":"Augs","step":4600,"q50":0.096,"q90":0.33,"q99":0.69,"max":0.74},
{"panel":"Non-Zero","group":"Augs","step":4700,"q50":0.12,"q90":0.29,"q99":0.64,"max":0.7},
{"panel":"Non-Zero","group":"Augs","step":4800,"q50":0.1,"q90":0.34,"q99":0.7,"max":0.8},
{"panel":"Non-Zero","group":"Augs","step":4900,"q50":0.116,"q90":0.3,"q99":0.66,"max":0.72},
{"panel":"Non-Zero","group":"Augs","step":5000,"q50":0.098,"q90":0.33,"q99":0.68,"max":0.76},
{"panel":"Non-Zero","group":"Augs","step":5100,"q50":0.122,"q90":0.29,"q99":0.63,"max":0.7},
{"panel":"Non-Zero","group":"Augs","step":5200,"q50":0.1,"q90":0.32,"q99":0.67,"max":0.79},
{"panel":"Non-Zero","group":"Augs","step":5300,"q50":0.118,"q90":0.3,"q99":0.64,"max":0.72},
{"panel":"Non-Zero","group":"Augs","step":5400,"q50":0.102,"q90":0.34,"q99":0.7,"max":0.74},
{"panel":"Non-Zero","group":"Augs","step":5500,"q50":0.125,"q90":0.29,"q99":0.65,"max":0.7},
{"panel":"Non-Zero","group":"Augs","step":5600,"q50":0.104,"q90":0.32,"q99":0.68,"max":0.76},
{"panel":"Non-Zero","group":"Augs","step":5700,"q50":0.12,"q90":0.3,"q99":0.64,"max":0.93},
{"panel":"Non-Zero","group":"Augs","step":5800,"q50":0.102,"q90":0.33,"q99":0.71,"max":0.72},
{"panel":"Non-Zero","group":"Augs","step":5900,"q50":0.126,"q90":0.29,"q99":0.66,"max":0.8},
{"panel":"Non-Zero","group":"Augs","step":6000,"q50":0.106,"q90":0.32,"q99":0.72,"max":1.05},
{"panel":"Non-Zero","group":"Augs","step":6100,"q50":0.124,"q90":0.3,"q99":0.68,"max":0.78},
{"panel":"Non-Zero","group":"Augs","step":6200,"q50":0.104,"q90":0.34,"q99":0.74,"max":1.04},
{"panel":"Non-Zero","group":"Augs","step":6300,"q50":0.128,"q90":0.29,"q99":0.69,"max":0.82},
{"panel":"Non-Zero","group":"Augs","step":6400,"q50":0.108,"q90":0.33,"q99":0.72,"max":0.92},
{"panel":"Non-Zero","group":"Augs","step":6500,"q50":0.126,"q90":0.31,"q99":0.67,"max":0.8},
{"panel":"Non-Zero","group":"Augs","step":6600,"q50":0.106,"q90":0.3,"q99":0.7,"max":0.87},
{"panel":"Non-Zero","group":"Augs","step":6700,"q50":0.13,"q90":0.34,"q99":0.73,"max":0.78},
{"panel":"Non-Zero","group":"Augs","step":6800,"q50":0.11,"q90":0.29,"q99":0.68,"max":0.82},
{"panel":"Non-Zero","group":"Augs","step":6900,"q50":0.128,"q90":0.32,"q99":0.71,"max":0.76},
{"panel":"Non-Zero","group":"Augs","step":7000,"q50":0.108,"q90":0.31,"q99":0.69,"max":0.91},
{"panel":"Non-Zero","group":"Augs","step":7100,"q50":0.132,"q90":0.34,"q99":0.73,"max":0.8},
{"panel":"Non-Zero","group":"Augs","step":7200,"q50":0.112,"q90":0.3,"q99":0.68,"max":0.85},
{"panel":"Non-Zero","group":"Augs","step":7300,"q50":0.13,"q90":0.33,"q99":0.72,"max":0.78},
{"panel":"Non-Zero","group":"Augs","step":7400,"q50":0.11,"q90":0.29,"q99":0.67,"max":0.82},
{"panel":"Non-Zero","group":"Augs","step":7500,"q50":0.135,"q90":0.32,"q99":0.7,"max":0.8},
{"panel":"Non-Zero","group":"Augs","step":7600,"q50":0.114,"q90":0.35,"q99":0.74,"max":0.96},
{"panel":"Non-Zero","group":"Augs","step":7700,"q50":0.132,"q90":0.3,"q99":0.69,"max":0.85},
{"panel":"Non-Zero","group":"Augs","step":7800,"q50":0.112,"q90":0.33,"q99":0.72,"max":0.99},
{"panel":"Non-Zero","group":"Augs","step":7900,"q50":0.138,"q90":0.31,"q99":0.68,"max":0.85},
{"panel":"Non-Zero","group":"Augs","step":8000,"q50":0.12,"q90":0.3,"q99":0.66,"max":0.75}
]},
"hconcat":[
{
"width":268,"height":200,
"title":{"text":"Zero reward samples"},
"transform":[{"filter":"datum.panel === 'Zero'"}],
"encoding":{"x":{"field":"step","type":"quantitative","title":"SGD Steps","scale":{"domain":[-360,8390],"nice":false,"zero":false},"axis":{"values":[0,2000,4000,6000,8000],"format":"d","labelPadding":7,"titlePadding":2}}},
"layer":[
{"transform":[{"filter":"datum.group === 'No Augs'"}],"mark":{"type":"area","color":"#dc143c","opacity":0.12},"encoding":{"y":{"field":"q99","type":"quantitative","title":"TD Error","scale":{"domain":[-0.053,1.147],"nice":false,"zero":false},"axis":{"values":[0,0.25,0.5,0.75,1],"format":".2f","labelPadding":10,"titlePadding":4}},"y2":{"datum":0}}},
{"transform":[{"filter":"datum.group === 'No Augs'"}],"mark":{"type":"rule","color":"#dc143c","strokeWidth":1.2,"opacity":0.2},"encoding":{"y":{"field":"max","type":"quantitative","title":"TD Error"},"y2":{"datum":0}}},
{"transform":[{"filter":"datum.group === 'No Augs'"}],"mark":{"type":"area","color":"#dc143c","opacity":0.5},"encoding":{"y":{"field":"q90","type":"quantitative","title":"TD Error"},"y2":{"datum":0}}},
{"transform":[{"filter":"datum.group === 'No Augs'"}],"mark":{"type":"area","color":"#dc143c","opacity":0.85},"encoding":{"y":{"field":"q50","type":"quantitative","title":"TD Error"},"y2":{"datum":0}}},
{"transform":[{"filter":"datum.group === 'Augs'"}],"mark":{"type":"area","color":"#4169e1","opacity":0.12},"encoding":{"y":{"field":"q99","type":"quantitative","title":"TD Error"},"y2":{"datum":0}}},
{"transform":[{"filter":"datum.group === 'Augs'"}],"mark":{"type":"rule","color":"#4169e1","strokeWidth":1.2,"opacity":0.2},"encoding":{"y":{"field":"max","type":"quantitative","title":"TD Error"},"y2":{"datum":0}}},
{"transform":[{"filter":"datum.group === 'Augs'"}],"mark":{"type":"area","color":"#4169e1","opacity":0.5},"encoding":{"y":{"field":"q90","type":"quantitative","title":"TD Error"},"y2":{"datum":0}}},
{"transform":[{"filter":"datum.group === 'Augs'"}],"mark":{"type":"area","color":"#4169e1","opacity":1},"encoding":{"y":{"field":"q50","type":"quantitative","title":"TD Error"},"y2":{"datum":0}}},
{"transform":[{"filter":"datum.step < 0"}],"mark":{"type":"rule","strokeWidth":1.5},"encoding":{"y":{"field":"max","type":"quantitative","title":"TD Error"},"stroke":{"field":"group","type":"nominal","scale":{"domain":["No Augs","Augs"],"range":["#dc143c","#4169e1"]},"legend":{"title":null,"orient":"top-right","offset":6,"symbolType":"M-1,0H5","symbolSize":107,"symbolStrokeWidth":1.5,"labelFont":"DejaVu Sans","labelFontSize":15,"labelColor":"#000000","fillColor":"#f7f7f7","strokeColor":"#ececec","padding":6,"rowPadding":8,"labelOffset":32,"cornerRadius":3}}}}
]
},
{
"width":270,"height":200,
"title":{"text":"Non-Zero reward samples"},
"transform":[{"filter":"datum.panel === 'Non-Zero'"}],
"encoding":{"x":{"field":"step","type":"quantitative","title":"SGD Steps","scale":{"domain":[-400,8420],"nice":false,"zero":false},"axis":{"values":[0,2000,4000,6000,8000],"format":"d","labelPadding":7,"titlePadding":2}}},
"layer":[
{"transform":[{"filter":"datum.group === 'No Augs'"}],"mark":{"type":"area","color":"#dc143c","opacity":0.1},"encoding":{"y":{"field":"q99","type":"quantitative","title":null,"scale":{"domain":[-0.053,1.147],"nice":false,"zero":false},"axis":{"values":[0,0.25,0.5,0.75,1],"labels":false,"title":null,"domainColor":"#555555"}},"y2":{"datum":0}}},
{"transform":[{"filter":"datum.group === 'No Augs'"}],"mark":{"type":"rule","color":"#dc143c","strokeWidth":1.2,"opacity":0.2},"encoding":{"y":{"field":"max","type":"quantitative","title":null},"y2":{"datum":0}}},
{"transform":[{"filter":"datum.group === 'No Augs'"}],"mark":{"type":"area","color":"#dc143c","opacity":0.3},"encoding":{"y":{"field":"q90","type":"quantitative","title":null},"y2":{"datum":0}}},
{"transform":[{"filter":"datum.group === 'No Augs'"}],"mark":{"type":"area","color":"#dc143c","opacity":0.6},"encoding":{"y":{"field":"q50","type":"quantitative","title":null},"y2":{"datum":0}}},
{"transform":[{"filter":"datum.group === 'Augs'"}],"mark":{"type":"area","color":"#4169e1","opacity":0.09},"encoding":{"y":{"field":"q99","type":"quantitative","title":null},"y2":{"datum":0}}},
{"transform":[{"filter":"datum.group === 'Augs'"}],"mark":{"type":"rule","color":"#4169e1","strokeWidth":1.2,"opacity":0.16},"encoding":{"y":{"field":"max","type":"quantitative","title":null},"y2":{"datum":0}}},
{"transform":[{"filter":"datum.group === 'Augs'"}],"mark":{"type":"area","color":"#4169e1","opacity":0.55},"encoding":{"y":{"field":"q90","type":"quantitative","title":null},"y2":{"datum":0}}},
{"transform":[{"filter":"datum.group === 'Augs'"}],"mark":{"type":"area","color":"#4169e1","opacity":1},"encoding":{"y":{"field":"q50","type":"quantitative","title":null},"y2":{"datum":0}}}
]
}
],
"config":{
"view":{"stroke":null},
"font":"DejaVu Sans",
"axis":{"labelFont":"DejaVu Sans","titleFont":"DejaVu Sans","labelFontSize":15,"titleFontSize":15,"titleFontWeight":"normal","labelColor":"#000000","titleColor":"#000000","ticks":false,"domainColor":"#000000","domainWidth":1.3,"gridColor":"#dddddd","gridWidth":1},
"title":{"font":"DejaVu Sans","fontSize":17,"fontWeight":"normal","color":"#000000","offset":4}
}
}
